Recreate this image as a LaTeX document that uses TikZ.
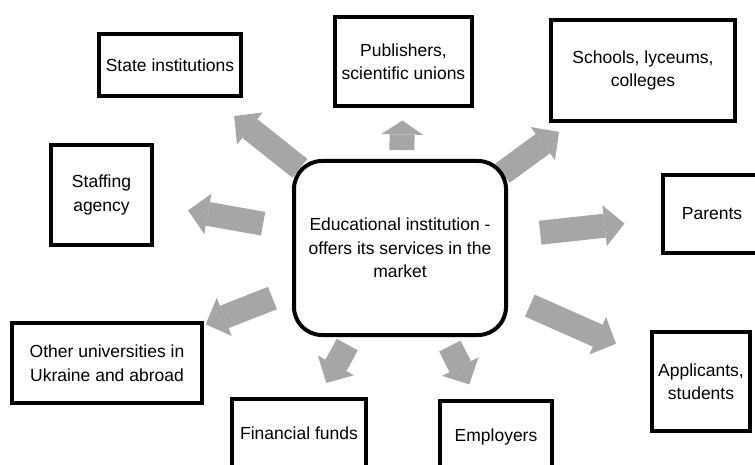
\documentclass[tikz,border=0pt]{standalone}
\usepackage{fontspec}
\setmainfont{Liberation Sans}
\usepackage{xcolor}
\definecolor{flowgray}{RGB}{166,166,166}
\usepackage{tikz}
\usetikzlibrary{arrows.meta}
\usetikzlibrary{backgrounds}
\newcommand{\boxline}{4pt}
\newcommand{\textsize}{\fontsize{17.5}{23.5}\selectfont}
\tikzset{
    common/.style={draw, line width=\boxline, align=center, inner sep=0pt, font=\textsize},
    box/.style={common, rectangle},
    hub/.style={common, rectangle, rounded corners=28pt},
    flow/.style 2 args={flowgray, line width=24pt, shorten <=#1, shorten >=#2,
        -{Triangle[length=20pt, width=41pt, line width=0pt]}},
    smallflow/.style 2 args={flow={#1}{#2}, line width=25pt,
        -{Triangle[length=14pt, width=42pt, line width=0pt]}}
}

\begin{document}
\begin{tikzpicture}[x=1pt, y=-1pt]
    \useasboundingbox (0,0) rectangle (755,465);

    \node[hub, minimum width=212pt, minimum height=174pt] (edu) at (400,248)
        {Educational institution -\\offers its services in the\\market};

    \node[box, minimum width=142pt, minimum height=62pt] (state-inst) at (170,65) {State institutions};
    \node[box, minimum width=137pt, minimum height=89pt] (publishers) at (403.5,61.5) {Publishers,\\scientific unions};
    \node[box, minimum width=184pt, minimum height=101pt] (schools) at (643,70.5) {Schools, lyceums,\\colleges};
    \node[box, minimum width=101pt, minimum height=100pt] (staffing) at (101.5,195) {Staffing\\agency};
    \node[box, minimum width=98pt, minimum height=78pt] (parents) at (712,214) {Parents};
    \node[box, minimum width=98pt, minimum height=99pt] (applicants) at (701,381.5) {Applicants,\\students};
    \node[box, minimum width=190pt, minimum height=80pt] (other-univ) at (107,363) {Other universities in\\Ukraine and abroad};
    \node[box, minimum width=134pt, minimum height=68pt] (fin-funds) at (299,433) {Financial funds};
    \node[box, minimum width=112pt, minimum height=72pt] (employers) at (496,437) {Employers};

    \begin{scope}[on background layer]
        \draw[flow={128pt}{82pt}] (edu.center) -- (state-inst.center);
        \draw[smallflow={98pt}{59pt}] (edu.center) -- (publishers.center);
        \draw[flow={127pt}{104pt}] (edu.center) -- (schools.center);
        \draw[flow={139pt}{88pt}] (edu.center) -- (staffing.center);
        \draw[flow={141pt}{88pt}] (edu.center) -- (parents.center);
        \draw[flow={142pt}{93pt}] (edu.center) -- (applicants.center);
        \draw[flow={137pt}{106pt}] (edu.center) -- (other-univ.center);
        \draw[flow={110pt}{57pt}] (edu.center) -- (fin-funds.center);
        \draw[flow={110pt}{59pt}] (edu.center) -- (employers.center);
    \end{scope}
\end{tikzpicture}
\end{document}
